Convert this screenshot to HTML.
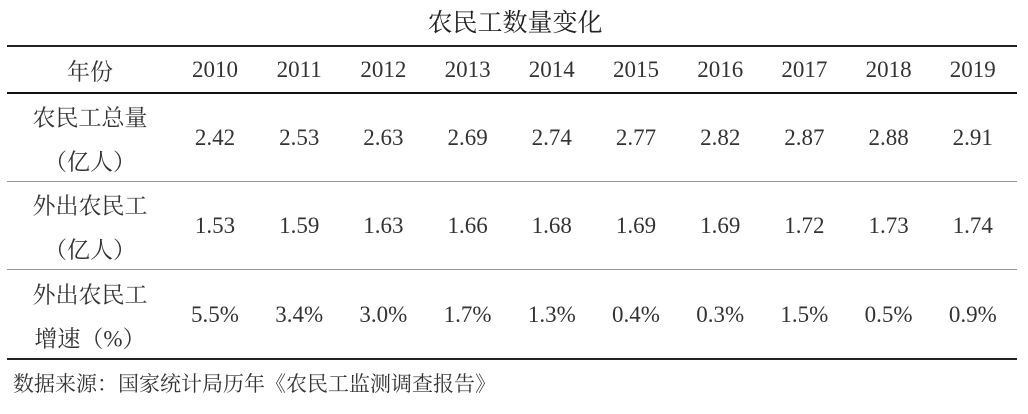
<!DOCTYPE html>
<html><head><meta charset="utf-8"><style>
body{margin:0;width:1028px;height:414px;background:#fff;position:relative;overflow:hidden;font-family:"Liberation Serif","Noto Serif CJK SC",serif;color:#333}
.t{position:absolute;transform:translate(-50%,-50%);white-space:nowrap;font-size:23px}
.l{position:absolute;left:7px;width:1010px}
</style></head><body>
<div class="t" style="left:515px;top:21px;font-size:25px;color:#222">农民工数量变化</div>
<div class="l" style="top:45px;height:2px;background:#222"></div>
<div class="l" style="top:92px;height:2px;background:#111"></div>
<div class="l" style="top:181px;height:1px;background:#999"></div>
<div class="l" style="top:269px;height:1px;background:#999"></div>
<div class="l" style="top:358px;height:2px;background:#222"></div>
<div class="t" style="left:90px;top:70px">年份</div>
<div class="t" style="left:90px;top:116px">农民工总量</div>
<div class="t" style="left:90px;top:160px">（亿人）</div>
<div class="t" style="left:90px;top:204px">外出农民工</div>
<div class="t" style="left:90px;top:248px">（亿人）</div>
<div class="t" style="left:90px;top:293px">外出农民工</div>
<div class="t" style="left:90px;top:337px">增速（%）</div>
<div class="t" style="left:13px;top:383px;transform:translate(0,-50%);font-size:21px">数据来源：国家统计局历年《农民工监测调查报告》</div>
<div id="cells"></div>
<script>
const years=["2010","2011","2012","2013","2014","2015","2016","2017","2018","2019"];
const total=["2.42","2.53","2.63","2.69","2.74","2.77","2.82","2.87","2.88","2.91"];
const migrant=["1.53","1.59","1.63","1.66","1.68","1.69","1.69","1.72","1.73","1.74"];
const growth=["5.5%","3.4%","3.0%","1.7%","1.3%","0.4%","0.3%","1.5%","0.5%","0.9%"];
const c=document.getElementById('cells');
function x(i){return 215+i*84.2;}
function add(txt,i,y,name){
  const d=document.createElement('div');
  d.className='t';
  d.style.left=x(i)+'px';d.style.top=y+'px';
  d.textContent=txt;
  
  
  c.appendChild(d);
}
years.forEach((v,i)=>add(v,i,70,'header-'+v));
total.forEach((v,i)=>add(v,i,138,'total-'+years[i]));
migrant.forEach((v,i)=>add(v,i,226,'migrant-'+years[i]));
growth.forEach((v,i)=>add(v,i,315,'growth-'+years[i]));
</script>
</body></html>
